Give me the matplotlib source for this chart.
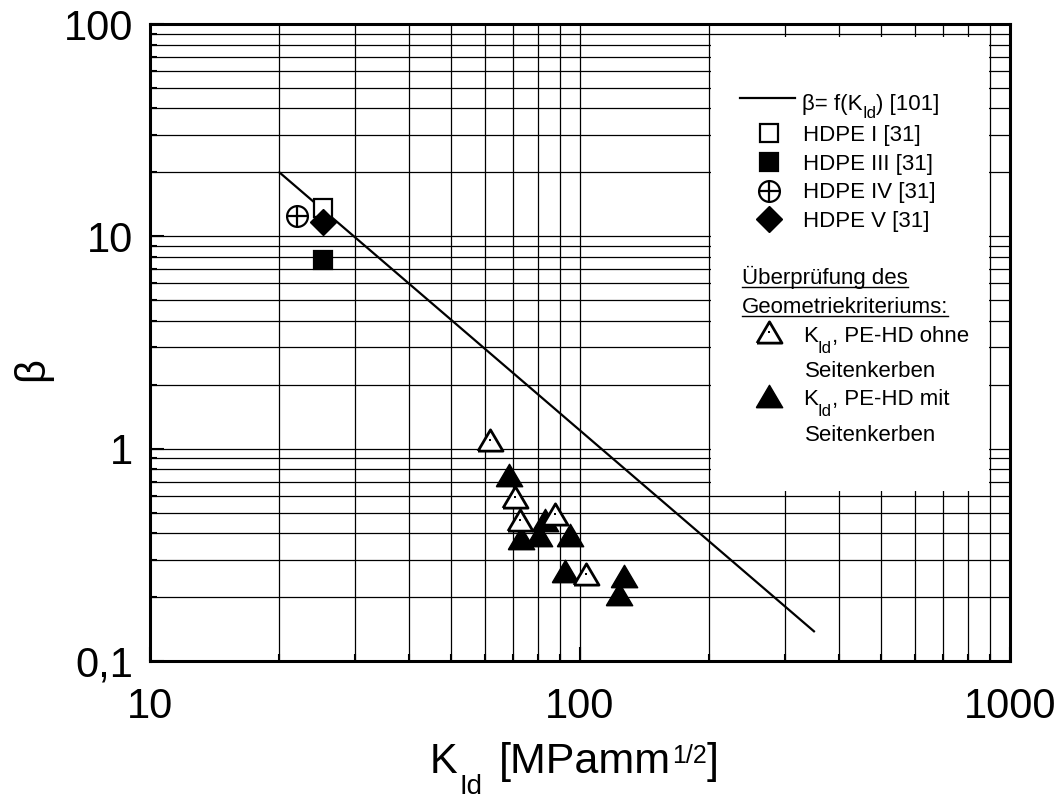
import matplotlib
matplotlib.use("Agg")
import matplotlib.pyplot as plt
from matplotlib.lines import Line2D
from matplotlib.patches import Rectangle
from matplotlib.ticker import FixedLocator, FixedFormatter, LogLocator, NullFormatter

plt.rcParams['font.family'] = ['Liberation Sans', 'DejaVu Sans']

# ---------------- data ----------------
line_x = [20, 350]
line_y = [20, 0.138]

hdpe1_x = [25.2]; hdpe1_y = [13.6]
hdpe3_x = [25.2]; hdpe3_y = [7.7]
hdpe4_x = [22.0]; hdpe4_y = [12.5]
hdpe5_x = [25.2]; hdpe5_y = [11.7]

ohne_x = [61.9, 70.6, 72.5, 87.5, 103.0]
ohne_y = [1.10, 0.59, 0.461, 0.495, 0.256]

mit_x = [68.4, 72.9, 80.4, 82.9, 94.8, 92.5, 126.8, 123.3]
mit_y = [0.75, 0.379, 0.390, 0.459, 0.390, 0.264, 0.252, 0.207]

y_ticks = [0.1, 1, 10, 100]
y_tick_labels = ['0,1', '1', '10', '100']
x_ticks = [10, 100, 1000]
x_tick_labels = ['10', '100', '1000']

# ---------------- figure ----------------
W, H = 1063, 800
fig = plt.figure(figsize=(W / 100, H / 100), dpi=100)
ax = fig.add_axes([150 / W, 1 - 661 / H, (1010 - 150) / W, (661 - 24) / H])
ax.set_xscale('log')
ax.set_yscale('log')
ax.set_xlim(10, 1000)
ax.set_ylim(0.1, 100)

ax.xaxis.set_major_locator(FixedLocator(x_ticks))
ax.xaxis.set_major_formatter(FixedFormatter(x_tick_labels))
ax.yaxis.set_major_locator(FixedLocator(y_ticks))
ax.yaxis.set_major_formatter(FixedFormatter(y_tick_labels))
ax.xaxis.set_minor_locator(LogLocator(base=10, subs=range(2, 10)))
ax.yaxis.set_minor_locator(LogLocator(base=10, subs=range(2, 10)))
ax.xaxis.set_minor_formatter(NullFormatter())
ax.yaxis.set_minor_formatter(NullFormatter())

ax.tick_params(which='both', direction='in', top=False, right=False, width=1.5, colors='black')
ax.tick_params(which='major', length=10, labelsize=30)
ax.tick_params(which='minor', length=5)
ax.tick_params(axis='x', which='major', pad=19)
ax.tick_params(axis='y', which='major', pad=12)

for s in ax.spines.values():
    s.set_linewidth(2.2)
    s.set_color('black')

ax.set_axisbelow(True)
ax.grid(which='both', color='black', linewidth=0.9)

# white legend area
ax.add_patch(Rectangle((201.5, 0.63), 895 - 201.5, 87 - 0.63, facecolor='white',
                       edgecolor='none', zorder=1))

# ---------------- data marks ----------------
tri = [(-1, -0.85), (1, -0.85), (0, 0.85), (-1, -0.85)]
ax.plot(line_x, line_y, color='black', lw=1.6, zorder=2)
ax.plot(hdpe1_x, hdpe1_y, ls='none', marker='s', ms=13, mfc='white', mec='black', mew=1.6, zorder=3)
ax.plot(hdpe3_x, hdpe3_y, ls='none', marker='s', ms=13, mfc='black', mec='black', mew=1.6, zorder=3)
ax.plot(hdpe4_x, hdpe4_y, ls='none', marker='o', ms=15, mfc='white', mec='black', mew=1.6, zorder=3)
ax.plot(hdpe4_x, hdpe4_y, ls='none', marker='+', ms=15, mec='black', mew=1.6, zorder=3)
ax.plot(hdpe5_x, hdpe5_y, ls='none', marker='D', ms=13, mfc='black', mec='black', mew=1, zorder=4)
ax.plot(mit_x, mit_y, ls='none', marker=tri, ms=19, mfc='black', mec='black', mew=1, zorder=3)
ax.plot(ohne_x, ohne_y, ls='none', marker=tri, ms=18, mfc='white', mec='black', mew=2, zorder=4)
ax.plot(ohne_x, ohne_y, ls='none', marker='s', ms=1.6, mfc='black', mec='black', mew=0, zorder=5)

# ---------------- text helpers ----------------
renderer = fig.canvas.get_renderer()


def fx(x):
    return x / W


def fy(y):
    return 1 - y / H


def rich(x, y, parts):
    cx = x
    for s, fs, dy, gap in parts:
        cx += gap
        t = fig.text(fx(cx), fy(y + dy), s, fontsize=fs, ha='left', va='baseline')
        cx += t.get_window_extent(renderer).width
    return cx


# axis labels
fig.text(fx(430), fy(773), 'K', fontsize=30, va='baseline')
fig.text(fx(459), fy(794), 'Id', fontsize=20, va='baseline')
rich(499, 773, [('[MPamm', 31, 0, 0), ('1/2', 18, -10, 1), (']', 31, 0, 0)])
fig.text(fx(32), fy(369), 'β', fontsize=30, rotation=90, ha='center', va='center')

# ---------------- legend ----------------
LF = 16
fig.add_artist(Line2D([fx(740), fx(795)], [fy(98), fy(98)], color='black', lw=1.6))
rich(802, 110, [('β= f(K', LF, 0, 0), ('Id', 12, 8, 0), (') [101]', LF, 0, 0)])

mk = 769
fig.add_artist(Line2D([fx(mk)], [fy(133)], ls='none', marker='s', ms=13, mfc='white', mec='black', mew=1.6))
fig.text(fx(803), fy(141), 'HDPE I [31]', fontsize=LF, va='baseline')
fig.add_artist(Line2D([fx(mk)], [fy(162)], ls='none', marker='s', ms=13, mfc='black', mec='black', mew=1.6))
fig.text(fx(803), fy(170), 'HDPE III [31]', fontsize=LF, va='baseline')
fig.add_artist(Line2D([fx(mk)], [fy(191)], ls='none', marker='o', ms=15, mfc='white', mec='black', mew=1.6))
fig.add_artist(Line2D([fx(mk)], [fy(191)], ls='none', marker='+', ms=15, mec='black', mew=1.6))
fig.text(fx(803), fy(198), 'HDPE IV [31]', fontsize=LF, va='baseline')
fig.add_artist(Line2D([fx(mk)], [fy(219)], ls='none', marker='D', ms=13, mfc='black', mec='black', mew=1))
fig.text(fx(803), fy(227), 'HDPE V [31]', fontsize=LF, va='baseline')

for txt, yb in [('Überprüfung des', 284), ('Geometriekriteriums:', 313)]:
    t = fig.text(fx(742), fy(yb), txt, fontsize=LF, va='baseline')
    w = t.get_window_extent(renderer).width
    fig.add_artist(Line2D([fx(742), fx(742 + w)], [fy(yb + 3), fy(yb + 3)], color='black', lw=1.0))

fig.add_artist(Line2D([fx(mk)], [fy(332)], ls='none', marker=tri, ms=18, mfc='white', mec='black', mew=2))
fig.add_artist(Line2D([fx(mk)], [fy(332)], ls='none', marker='s', ms=1.6, mfc='black', mec='black', mew=0))
rich(803, 342, [('K', LF, 0, 0), ('Id', 12, 11, 0), (', PE-HD ohne', LF, 0, 0)])
fig.text(fx(805), fy(377), 'Seitenkerben', fontsize=LF, va='baseline')

fig.add_artist(Line2D([fx(mk)], [fy(396)], ls='none', marker=tri, ms=19, mfc='black', mec='black', mew=1))
rich(803, 405, [('K', LF, 0, 0), ('Id', 12, 11, 0), (', PE-HD mit', LF, 0, 0)])
fig.text(fx(805), fy(441), 'Seitenkerben', fontsize=LF, va='baseline')

fig.savefig('out.png', dpi=100)
